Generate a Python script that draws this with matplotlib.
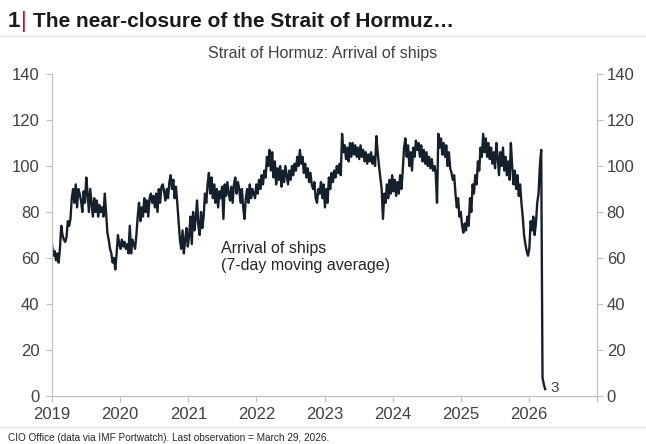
import pandas as pd
import matplotlib
matplotlib.use("Agg")
import matplotlib.pyplot as plt

plt.rcParams['font.family'] = ['Liberation Sans', 'DejaVu Sans']

# weekly readings of the 7-day moving average (Jan 2019 -> 29 Mar 2026)
ships_2019 = [66, 61, 63, 59, 62, 58, 64, 74, 70, 68, 67, 69, 76, 74, 77, 86, 90, 84, 92, 82,
              90, 88, 85, 80, 89, 84, 95, 88, 80, 90, 84, 78, 86, 80, 85, 78, 83, 80, 82, 78,
              88, 80, 71, 68, 64, 62, 58, 60, 55, 62, 70, 66]
ships_2020 = [64, 68, 65, 67, 64, 66, 62, 74, 62, 68, 66, 64, 70, 78, 84, 76, 82, 78, 86, 80,
              85, 78, 86, 88, 84, 87, 82, 88, 80, 90, 84, 91, 92, 89, 85, 90, 86, 93, 96, 90,
              94, 86, 91, 84, 76, 68, 64, 72, 62, 68, 73, 65]
ships_2021 = [70, 78, 66, 80, 72, 77, 85, 74, 70, 80, 73, 78, 88, 84, 92, 97, 88, 95, 86, 92,
              84, 90, 82, 89, 86, 91, 77, 92, 87, 93, 88, 85, 91, 84, 92, 95, 88, 93, 90, 84,
              90, 82, 77, 86, 90, 84, 92, 86, 90, 88]
ships_2022 = [86, 92, 88, 94, 90, 96, 92, 98, 95, 104, 100, 107, 98, 106, 95, 102, 92, 99, 94, 100,
              91, 98, 93, 100, 96, 92, 98, 94, 100, 96, 101, 98, 104, 100, 107, 101, 104, 97, 101, 95,
              99, 93, 97, 92, 90, 93, 86, 84, 90, 88, 93, 86]
ships_2023 = [92, 82, 90, 84, 95, 90, 97, 93, 98, 95, 100, 97, 101, 96, 114, 106, 109, 103, 108, 102,
              110, 104, 110, 105, 109, 104, 108, 103, 109, 104, 107, 102, 106, 101, 105, 102, 106, 101, 104, 100,
              113, 106, 100, 95, 90, 77, 88, 84, 92, 86, 94, 88]
ships_2024 = [96, 89, 94, 87, 93, 88, 96, 90, 98, 108, 112, 104, 109, 100, 106, 98, 108, 104, 111, 107,
              110, 104, 109, 102, 107, 101, 106, 100, 104, 99, 103, 98, 100, 97, 84, 114, 108, 112, 105, 110,
              104, 109, 100, 106, 99, 97, 94, 96, 88, 82, 86, 78]
ships_2025 = [80, 74, 71, 75, 72, 78, 74, 86, 80, 92, 88, 96, 92, 102, 98, 108, 104, 114, 106, 112,
              104, 110, 103, 108, 101, 106, 99, 110, 104, 96, 106, 100, 108, 98, 104, 96, 102, 94, 110, 100,
              92, 98, 90, 96, 87, 92, 84, 78, 70, 66, 63, 61]
ships_2026 = [64, 76, 72, 78, 70, 75, 84, 88, 100, 107, 8, 5, 3]

ships = ships_2019 + ships_2020 + ships_2021 + ships_2022 + ships_2023 + ships_2024 + ships_2025 + ships_2026
dates = pd.date_range('2019-01-01', '2026-03-29', periods=len(ships))

years = list(range(2019, 2028))
year_labels = [str(y) if y < 2027 else '' for y in years]
y_ticks = [0, 20, 40, 60, 80, 100, 120, 140]

grey = '#bfbfbf'
txt = '#404040'
navy = '#15202d'

fig = plt.figure(figsize=(6.46, 4.44), dpi=100)
ax = fig.add_axes([52 / 646, 48 / 444, 545 / 646, 322 / 444])

ax.plot(dates, ships, color=navy, lw=1.7)
ax.annotate(str(ships[-1]), (dates[-1], ships[-1]), xytext=(4, 1), textcoords='offset points',
            fontsize=11, color=txt, va='center')

ax.text(pd.Timestamp('2021-06-25'), 67.5, 'Arrival of ships\n(7-day moving average)',
        fontsize=11.5, color='#262626', va='top', linespacing=1.15)

ax.set_xlim(pd.Timestamp('2019-01-01'), pd.Timestamp('2027-01-01'))
ax.set_ylim(0, 140)
ax.set_xticks([pd.Timestamp(f'{y}-01-01') for y in years])
ax.set_xticklabels(year_labels)
ax.set_yticks(y_ticks)

ax.tick_params(axis='x', direction='out', length=4, color=grey, labelsize=12,
               labelcolor=txt, pad=4)
ax.tick_params(axis='y', direction='out', length=4, color=grey, labelsize=12,
               labelcolor=txt, pad=5)

# right-hand copy of the value axis
ax2 = ax.twinx()
ax2.set_ylim(ax.get_ylim())
ax2.set_yticks(y_ticks)
ax2.tick_params(axis='y', direction='out', length=4, color=grey, labelsize=12,
                labelcolor=txt, pad=3)

for a in (ax, ax2):
    for side in ['left', 'right', 'bottom']:
        a.spines[side].set_color(grey)
        a.spines[side].set_linewidth(0.8)
    a.spines['top'].set_visible(False)

# header
fig.text(8 / 646, 1 - 27 / 444, '1', fontsize=16, fontweight='bold', color='#1a1a1a')
fig.text(21 / 646, 1 - 27 / 444, '|', fontsize=16, color='#e3001b')
fig.text(33 / 646, 1 - 27 / 444, 'The near-closure of the Strait of Hormuz…',
         fontsize=15, fontweight='bold', color='#1a1a1a')
fig.add_artist(plt.Line2D([0.0, 1.0], [1 - 36 / 444, 1 - 36 / 444], color='#e6e6e6', lw=1))
fig.text(0.5, 1 - 58 / 444, 'Strait of Hormuz: Arrival of ships', fontsize=11.5,
         color=txt, ha='center')

# footer
fig.add_artist(plt.Line2D([0.0, 1.0], [1 - 427 / 444, 1 - 427 / 444], color='#e6e6e6', lw=1))
fig.text(8 / 646, 1 - 441 / 444, 'CIO Office (data via IMF Portwatch). Last observation = March 29, 2026.',
         fontsize=7.2, color='#262626')

fig.savefig('out.png', dpi=100)
